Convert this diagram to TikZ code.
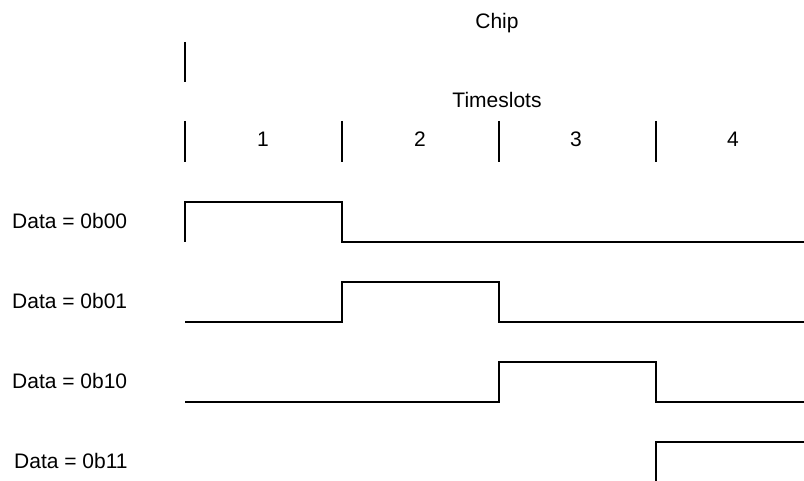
\documentclass[tikz,border=0pt]{standalone}
\usepackage{fontspec}
\setmainfont{Liberation Sans}
\usetikzlibrary{positioning}

\begin{document}
\begin{tikzpicture}[
    x=1pt, y=-1pt,
    txt/.style={inner sep=0pt, font=\fontsize{21}{25}\selectfont},
    datalabel/.style={txt, anchor=west},
    tick/.style={line width=1.6pt},
    wave/.style={line width=1.6pt, line join=miter}
]

% Page frame
\useasboundingbox (0,0) rectangle (804,481);

% Chip header
\node[txt] (chip) at (497,23) {Chip};
\draw[tick] (185,42) -- (185,82);

% Timeslot header
\node[txt] (timeslots) at (497,100) {Timeslots};
\draw[tick] (185,121) -- (185,162);
\draw[tick] (342,121) -- (342,162);
\draw[tick] (499,121) -- (499,162);
\draw[tick] (656,121) -- (656,162);
\node[txt] (slot1) at (263,139) {1};
\node[txt] (slot2) at (420,139) {2};
\node[txt] (slot3) at (576,139) {3};
\node[txt] (slot4) at (733,139) {4};

% Data labels
\node[datalabel] (data00) at (12,221) {Data = 0b00};
\node[datalabel] (data01) at (12,301) {Data = 0b01};
\node[datalabel] (data10) at (12,381) {Data = 0b10};
\node[datalabel] (data11) at (14,461) {Data = 0b11};

% Waveforms
\draw[wave] (185,242) -- (185,202) -- (342,202) -- (342,242) -- (804,242);
\draw[wave] (185,322) -- (342,322) -- (342,282) -- (499,282) -- (499,322) -- (804,322);
\draw[wave] (185,402) -- (499,402) -- (499,362) -- (656,362) -- (656,402) -- (804,402);
\draw[wave] (656,481) -- (656,442) -- (804,442);

\end{tikzpicture}
\end{document}
